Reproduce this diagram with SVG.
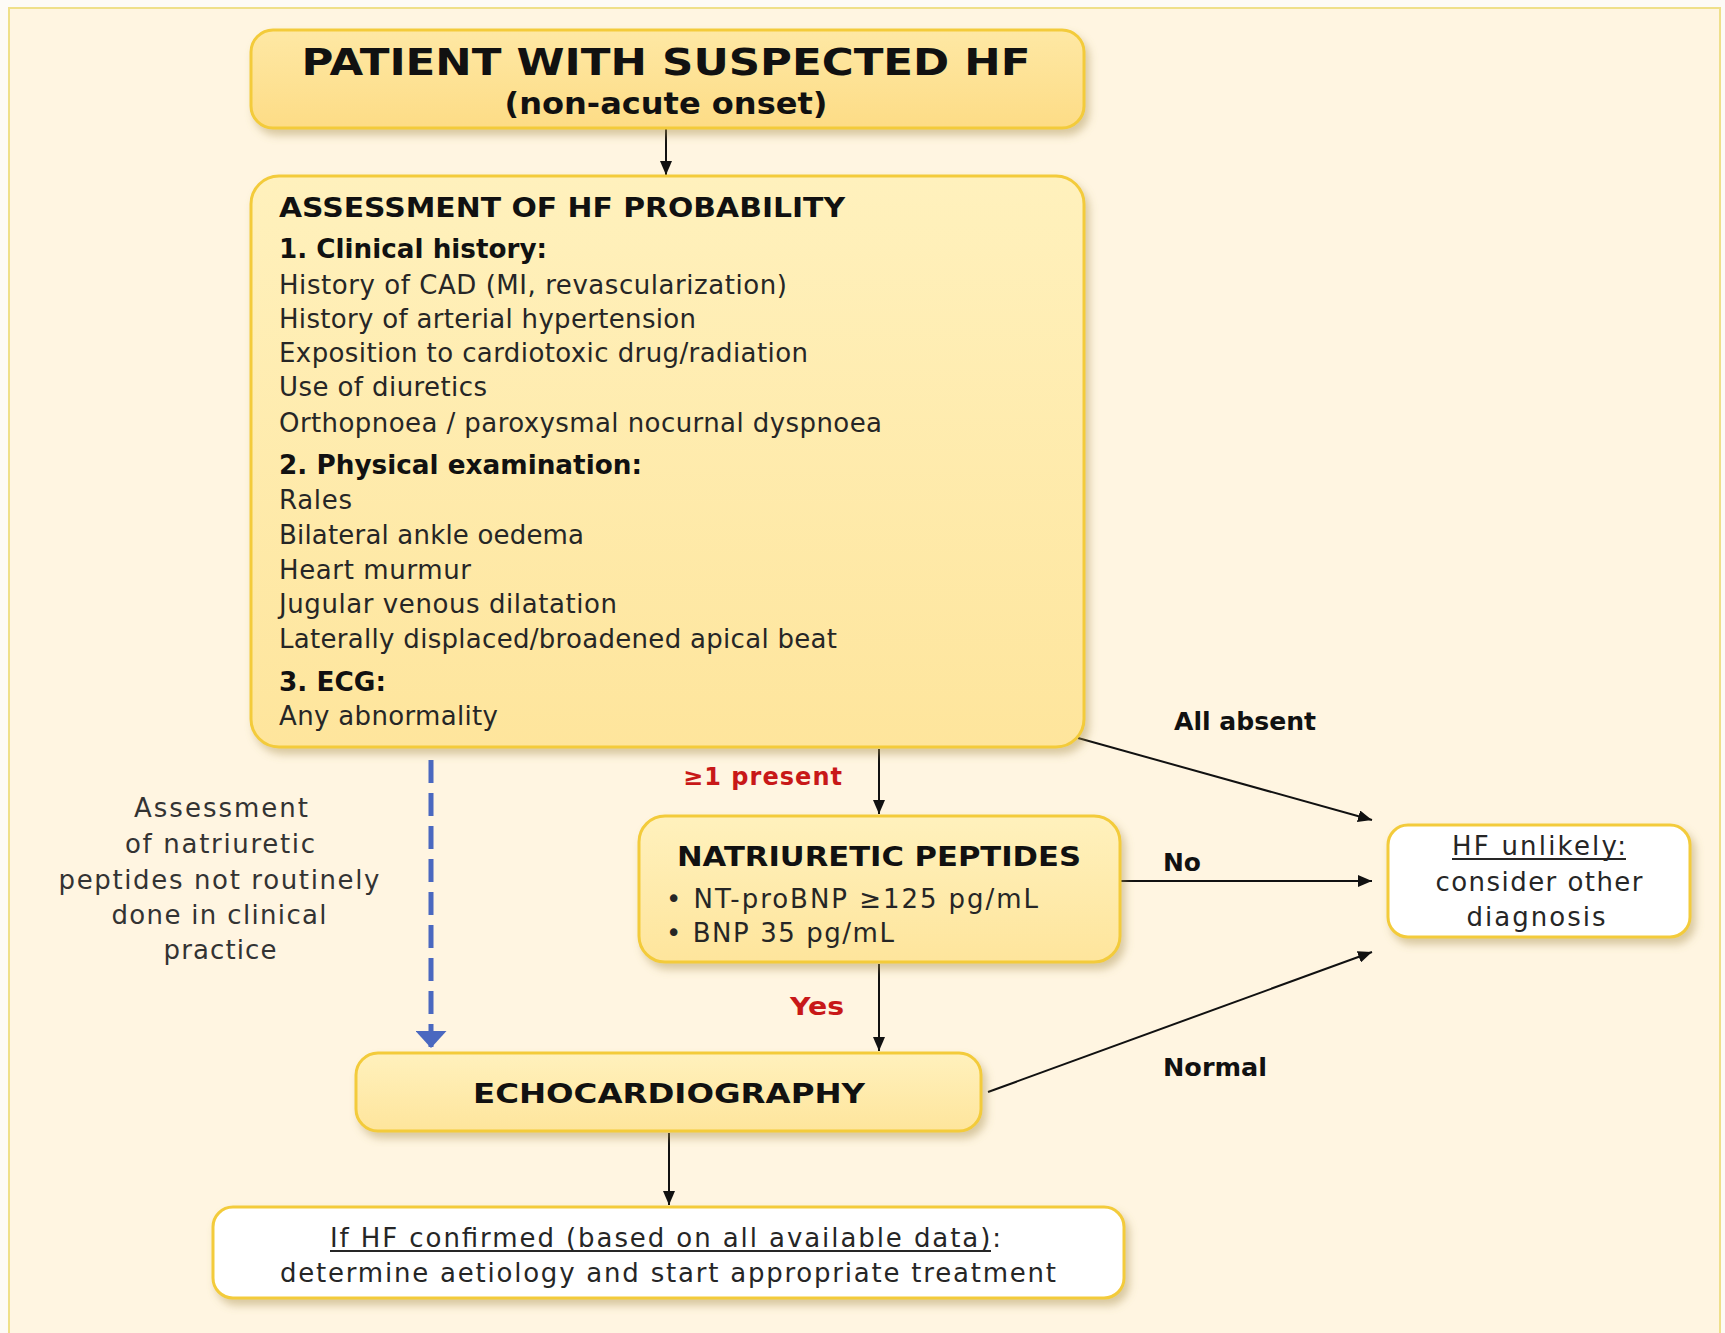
<svg xmlns="http://www.w3.org/2000/svg" width="1725" height="1333" viewBox="0 0 1725 1333">
<defs>
<linearGradient id="yel" x1="0" y1="0" x2="0" y2="1">
<stop offset="0" stop-color="#fff1bd"/>
<stop offset="1" stop-color="#fee59c"/>
</linearGradient>
<linearGradient id="yel2" x1="0" y1="0" x2="0" y2="1">
<stop offset="0" stop-color="#fee8a4"/>
<stop offset="1" stop-color="#fddc86"/>
</linearGradient>
<filter id="sh" x="-10%" y="-10%" width="125%" height="130%">
<feDropShadow dx="4" dy="6" stdDeviation="4" flood-color="#a89050" flood-opacity="0.45"/>
</filter>
<marker id="ah" viewBox="0 0 10 10" refX="10" refY="5" markerWidth="14" markerHeight="12" markerUnits="userSpaceOnUse" orient="auto" preserveAspectRatio="none">
<path d="M0,0 L10,5 L0,10 z" fill="#111"/>
</marker>
<marker id="ahb" viewBox="0 0 10 10" refX="10" refY="5" markerWidth="17" markerHeight="31" markerUnits="userSpaceOnUse" orient="auto" preserveAspectRatio="none">
<path d="M0,0 L10,5 L0,10 z" fill="#4a68c0"/>
</marker>
</defs>
<style>
.box{fill:url(#yel);stroke:#f3cb3a;stroke-width:3;filter:url(#sh)}
.top{fill:url(#yel2);stroke:#f3cb3a;stroke-width:3;filter:url(#sh)}
.wbox{fill:#ffffff;stroke:#f3cb3a;stroke-width:3;filter:url(#sh)}
text{font-family:"DejaVu Sans",Verdana,sans-serif;fill:#262626}
.b{font-weight:bold;fill:#111}
.t{font-size:26px}
.hd{font-size:26px;font-weight:bold;fill:#111}
.lbl{font-size:24px;font-weight:bold;fill:#111}
.red{font-size:24px;font-weight:bold;fill:#c81818}
.con{stroke:#111;stroke-width:2;fill:none;marker-end:url(#ah)}
.dash{stroke:#4a68c0;stroke-width:5;fill:none;stroke-dasharray:23 10;marker-end:url(#ahb)}
.note{font-size:26px;fill:#333}
.ul{stroke:#262626;stroke-width:1.8}
</style>
<rect x="0" y="0" width="1725" height="1333" fill="#fdfbf6"/>
<rect x="9" y="8" width="1711" height="1335" fill="#fff5e1" stroke="#efe08a" stroke-width="2"/>

<g id="connectors">
<line class="con" x1="666" y1="129" x2="666" y2="175"/>
<line class="con" x1="879" y1="749" x2="879" y2="814"/>
<line class="con" x1="879" y1="964" x2="879" y2="1051"/>
<line class="con" x1="669" y1="1133" x2="669" y2="1205"/>
<line class="con" x1="1078" y1="738" x2="1372" y2="820"/>
<line class="con" x1="1121" y1="881" x2="1372" y2="881"/>
<line class="con" x1="988" y1="1092" x2="1372" y2="952"/>
<line class="dash" x1="431" y1="760" x2="431" y2="1048"/>
<text class="red" x="683" y="785" textLength="159" lengthAdjust="spacing">≥1 present</text>
<text class="red" x="790" y="1015" textLength="54" lengthAdjust="spacingAndGlyphs">Yes</text>
<text class="lbl" x="1174" y="730" textLength="142" lengthAdjust="spacingAndGlyphs">All absent</text>
<text class="lbl" x="1163" y="871" textLength="38" lengthAdjust="spacingAndGlyphs">No</text>
<text class="lbl" x="1163" y="1076" textLength="104" lengthAdjust="spacingAndGlyphs">Normal</text>
</g>

<g id="note">
<text class="note" text-anchor="middle" x="221" y="817" textLength="174" lengthAdjust="spacing">Assessment</text>
<text class="note" text-anchor="middle" x="220" y="853" textLength="190" lengthAdjust="spacing">of natriuretic</text>
<text class="note" text-anchor="middle" x="219" y="889" textLength="321" lengthAdjust="spacing">peptides not routinely</text>
<text class="note" text-anchor="middle" x="219" y="924" textLength="215" lengthAdjust="spacing">done in clinical</text>
<text class="note" text-anchor="middle" x="220" y="959" textLength="113" lengthAdjust="spacing">practice</text>
</g>

<g id="patient">
<rect class="top" x="251" y="30" width="833" height="98" rx="22"/>
<text class="b" x="666" y="75" text-anchor="middle" font-size="37" textLength="729" lengthAdjust="spacingAndGlyphs">PATIENT WITH SUSPECTED HF</text>
<text class="b" x="666" y="114" text-anchor="middle" font-size="30" textLength="323" lengthAdjust="spacingAndGlyphs">(non-acute onset)</text>
</g>

<g id="assessment">
<rect class="box" x="251" y="176" width="833" height="571" rx="28"/>
<text class="hd" x="279" y="217" textLength="566" lengthAdjust="spacingAndGlyphs">ASSESSMENT OF HF PROBABILITY</text>
<text class="hd" x="279" y="258" textLength="268" lengthAdjust="spacingAndGlyphs">1. Clinical history:</text>
<text class="t" x="279" y="294" textLength="508" lengthAdjust="spacing">History of CAD (MI, revascularization)</text>
<text class="t" x="279" y="328" textLength="417" lengthAdjust="spacing">History of arterial hypertension</text>
<text class="t" x="279" y="362" textLength="529" lengthAdjust="spacing">Exposition to cardiotoxic drug/radiation</text>
<text class="t" x="279" y="396" textLength="208" lengthAdjust="spacing">Use of diuretics</text>
<text class="t" x="279" y="432" textLength="603" lengthAdjust="spacing">Orthopnoea / paroxysmal nocurnal dyspnoea</text>
<text class="hd" x="279" y="474" textLength="363" lengthAdjust="spacingAndGlyphs">2. Physical examination:</text>
<text class="t" x="279" y="509" textLength="73" lengthAdjust="spacing">Rales</text>
<text class="t" x="279" y="544" textLength="305" lengthAdjust="spacing">Bilateral ankle oedema</text>
<text class="t" x="279" y="579" textLength="192" lengthAdjust="spacing">Heart murmur</text>
<text class="t" x="279" y="613" textLength="338" lengthAdjust="spacing">Jugular venous dilatation</text>
<text class="t" x="279" y="648" textLength="558" lengthAdjust="spacing">Laterally displaced/broadened apical beat</text>
<text class="hd" x="279" y="691" textLength="107" lengthAdjust="spacingAndGlyphs">3. ECG:</text>
<text class="t" x="279" y="725" textLength="219" lengthAdjust="spacing">Any abnormality</text>
</g>

<g id="natriuretic">
<rect class="box" x="639" y="816" width="481" height="146" rx="26"/>
<text class="hd" x="677" y="866" textLength="404" lengthAdjust="spacingAndGlyphs">NATRIURETIC PEPTIDES</text>
<text class="t" x="666" y="908" textLength="372" lengthAdjust="spacing">• NT-proBNP ≥125 pg/mL</text>
<text class="t" x="666" y="942" textLength="228" lengthAdjust="spacing">• BNP 35 pg/mL</text>
</g>

<g id="echo">
<rect class="box" x="356" y="1053" width="625" height="78" rx="22"/>
<text class="hd" x="669" y="1103" text-anchor="middle" font-size="28" textLength="392" lengthAdjust="spacingAndGlyphs">ECHOCARDIOGRAPHY</text>
</g>

<g id="unlikely">
<rect class="wbox" x="1388" y="825" width="302" height="112" rx="20"/>
<text class="t" x="1539" y="855" text-anchor="middle" textLength="174" lengthAdjust="spacing">HF unlikely:</text>
<line class="ul" x1="1452" y1="859" x2="1626" y2="859"/>
<text class="t" x="1539" y="891" text-anchor="middle" textLength="207" lengthAdjust="spacing">consider other</text>
<text class="t" x="1536" y="926" text-anchor="middle" textLength="139" lengthAdjust="spacing">diagnosis</text>
</g>

<g id="confirmed">
<rect class="wbox" x="213" y="1207" width="911" height="91" rx="20"/>
<text class="t" x="330" y="1247" textLength="671" lengthAdjust="spacing">If HF confirmed (based on all available data):</text>
<line class="ul" x1="330" y1="1251" x2="991" y2="1251"/>
<text class="t" x="280" y="1282" textLength="776" lengthAdjust="spacing">determine aetiology and start appropriate treatment</text>
</g>
</svg>
